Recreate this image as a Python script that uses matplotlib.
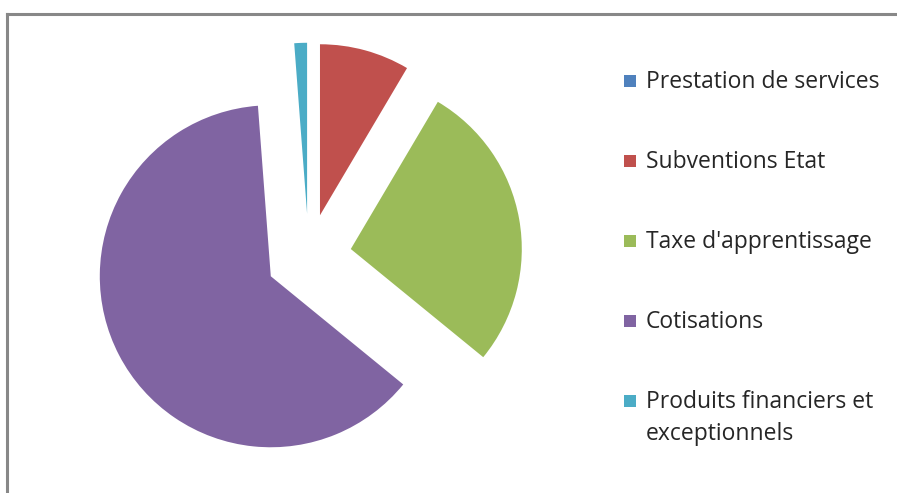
import matplotlib
matplotlib.use("Agg")
import matplotlib.pyplot as plt
from matplotlib.patches import Rectangle
from matplotlib.lines import Line2D

# données (en %)
categories = ["Prestation de services", "Subventions Etat", "Taxe d'apprentissage",
              "Cotisations", "Produits financiers et\nexceptionnels"]
valeurs = [0.0, 8.5, 27.4, 62.9, 1.2]
couleurs = ["#4F81BD", "#C0504D", "#9BBB59", "#8064A2", "#4BACC6"]

W, H = 897, 493
fig = plt.figure(figsize=(W / 100, H / 100), dpi=100)
fig.patch.set_facecolor("white")

# camembert éclaté, départ en haut, sens horaire
r_px = 171
lim = 1.35
cx, cy = 308.7, H - 256.5
size = 2 * lim * r_px
ax = fig.add_axes([(cx - size / 2) / W, (cy - size / 2) / H, size / W, size / H])
ax.pie(valeurs, colors=couleurs, startangle=90, counterclock=False,
       explode=[0.25] * len(valeurs), wedgeprops=dict(linewidth=0))
ax.set_xlim(-lim, lim)
ax.set_ylim(-lim, lim)
ax.set_aspect("equal")
ax.axis("off")

# cadre gris (coupé à droite et en bas)
gris = "#888888"
fig.add_artist(Line2D([7 / W, 1.0], [1 - 14 / H, 1 - 14 / H], color=gris, lw=2.2))
fig.add_artist(Line2D([7 / W, 7 / W], [0.0, 1 - 14 / H], color=gris, lw=2.2))

# légende dessinée à la main
y0, pas, interligne = 81, 80, 31
for i, (lab, col) in enumerate(zip(categories, couleurs)):
    y = y0 + pas * i
    fig.add_artist(Rectangle((623.5 / W, 1 - (y + 6.3) / H), 12.5 / W, 12.5 / H,
                             facecolor=col, edgecolor="none"))
    for k, ligne in enumerate(lab.split("\n")):
        fig.text(646 / W, 1 - (y + 1.5 + k * interligne) / H, ligne, fontsize=16.5,
                 family="Open Sans", color="#262626", va="center", ha="left")

fig.savefig("out.png", dpi=100, facecolor="white")
